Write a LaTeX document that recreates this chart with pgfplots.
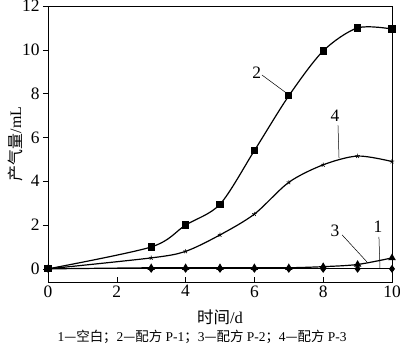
\documentclass[border=0pt]{standalone}
\usepackage{fontspec}
\setmainfont{Liberation Serif}
\newfontfamily\cjk{Noto Sans CJK SC}
\usepackage{pgfplots}
\pgfplotsset{compat=1.18}
\begin{document}
\begin{tikzpicture}
\useasboundingbox (-48bp,-70bp) rectangle (352bp,282bp);
\begin{axis}[
  scale only axis, width=344bp, height=276bp,
  at={(0,0)}, anchor=south west,
  xmin=0, xmax=10, ymin=-0.6, ymax=12,
  xtick={0,2,...,10}, ytick={0,2,...,12},
  tick pos=left, xtick align=inside, ytick align=outside,
  major tick length=5bp,
  tick style={black, line width=0.6bp},
  axis line style={line width=0.8bp},
  tick label style={font=\fontsize{17.5}{20}\selectfont},
  /pgf/number format/assume math mode=true,
  clip=false,
  every axis plot/.append style={black, line width=1.2bp, smooth, tension=0.5},
]
\addplot[mark=diamond*, mark size=3bp] coordinates {(0,0)(3,0)(4,0)(5,0)(6,0)(7,0)(8,0)(9,0)(10,0)};
\addplot[mark=square*, mark size=3bp] coordinates {(0,0)(3,1.0)(4,2.0)(5,2.95)(6,5.4)(7,7.9)(8,9.95)(9,11.0)(10,10.95)};
\addplot[mark=triangle*, mark size=3.2bp] coordinates {(0,0)(3,0.05)(4,0.05)(5,0.05)(6,0.05)(7,0.05)(8,0.1)(9,0.2)(10,0.5)};
\addplot[mark=star, mark size=2.3bp, mark options={line width=0.6bp}] coordinates {(0,0)(3,0.5)(4,0.8)(5,1.55)(6,2.5)(7,3.95)(8,4.75)(9,5.15)(10,4.9)};
\draw[line width=0.5bp] (axis cs:6.22,8.85) -- (axis cs:6.97,7.98);
\node[font=\fontsize{17.5}{20}\selectfont] at (axis cs:6.07,8.95) {2};
\draw[line width=0.5bp] (axis cs:8.43,6.55) -- (axis cs:8.46,5.05);
\node[font=\fontsize{17.5}{20}\selectfont] at (axis cs:8.34,6.98) {4};
\draw[line width=0.5bp] (axis cs:8.55,1.55) -- (axis cs:9.27,0.32);
\node[font=\fontsize{17.5}{20}\selectfont] at (axis cs:8.34,1.72) {3};
\draw[line width=0.5bp] (axis cs:9.62,1.46) -- (axis cs:9.65,0.05);
\node[font=\fontsize{17.5}{20}\selectfont] at (axis cs:9.59,1.9) {1};
\node[rotate=90, font=\fontsize{16}{19}\selectfont] at ([xshift=-33bp]rel axis cs:0,0.5) {{\cjk 产气量}/mL};
\node[font=\fontsize{16.5}{19}\selectfont] at ([yshift=-35bp]rel axis cs:0.5,0) {{\cjk 时间}/d};
\node[font=\fontsize{13.5}{16}\selectfont] at ([yshift=-55bp]rel axis cs:0.448,0) {1{\cjk —空白；}2{\cjk —配方} P-1{\cjk ；}3{\cjk —配方} P-2{\cjk ；}4{\cjk —配方} P-3};
\end{axis}
\end{tikzpicture}
\end{document}
